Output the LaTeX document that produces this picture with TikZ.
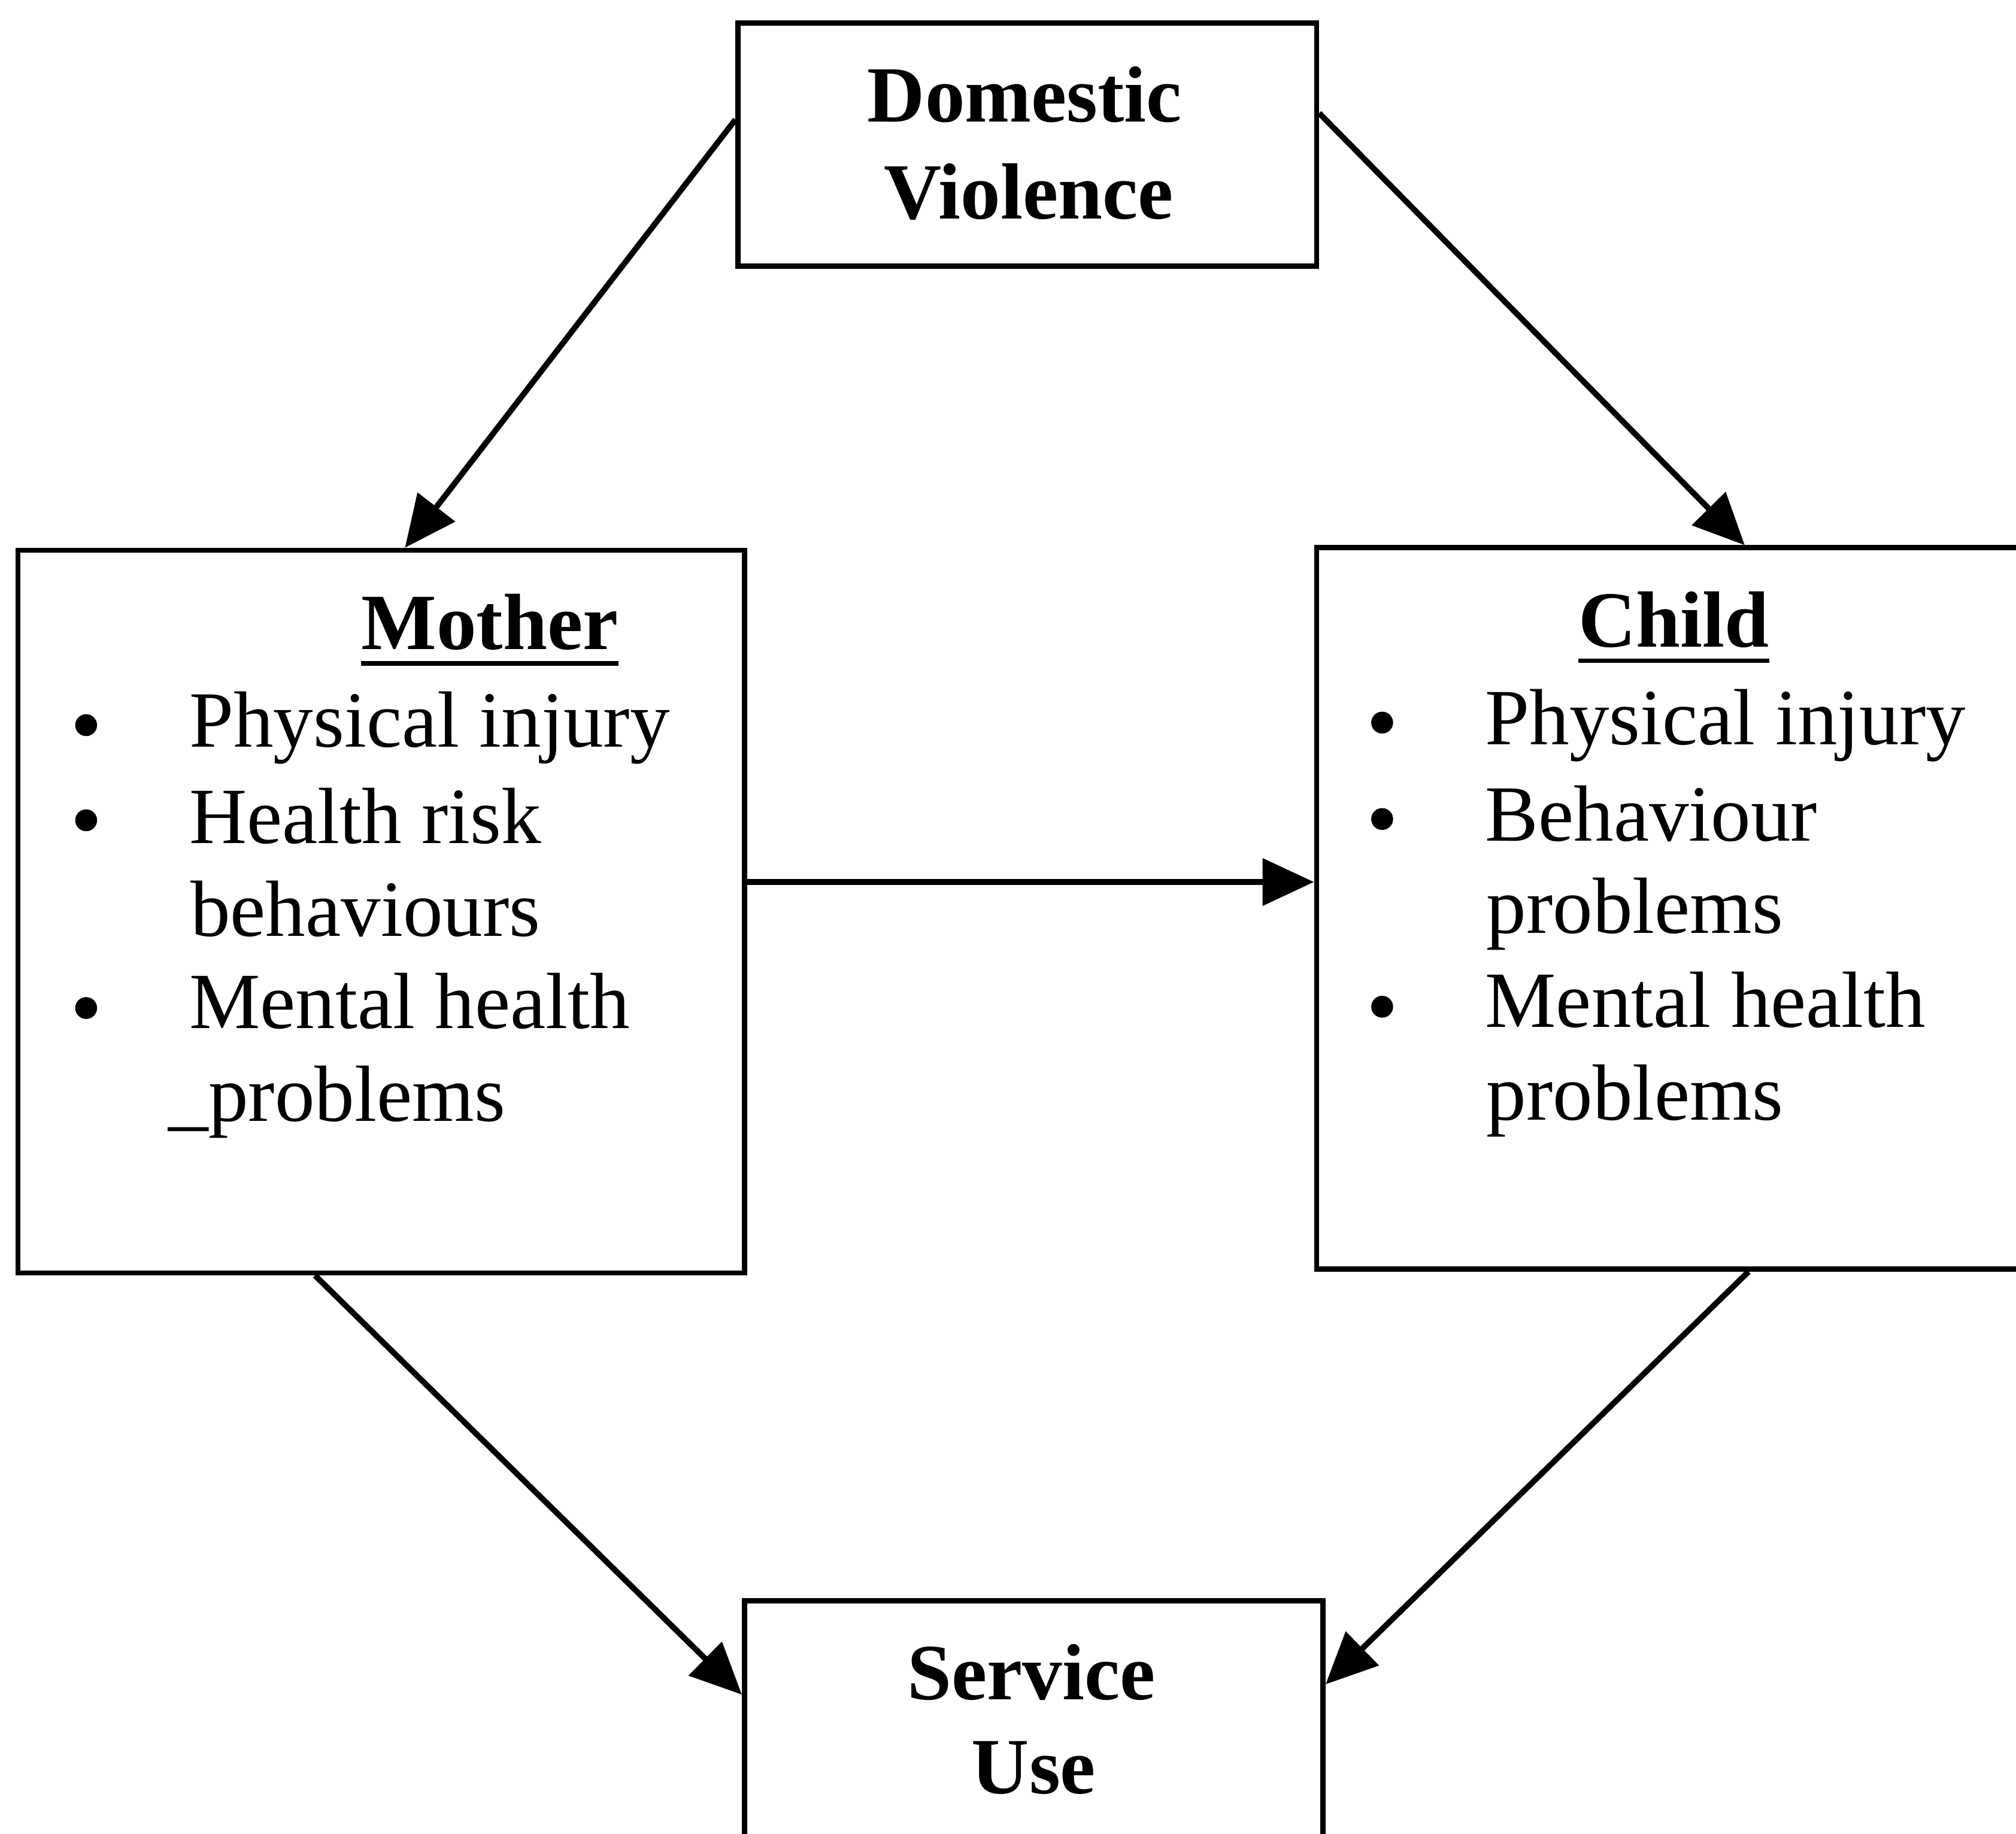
\documentclass[tikz,border=0pt]{standalone}
\usepackage{fontspec}
\setmainfont{Liberation Serif}
\usetikzlibrary{arrows.meta,calc}
\begin{document}
\begin{tikzpicture}[x=1pt,y=-1pt,
  box/.style={draw,line width=4pt,rectangle,inner sep=0pt,anchor=north west},
  conn/.style={line width=4.5pt,-{Triangle[length=40pt,width=36pt]}},
  txt/.style={font=\fontsize{62}{73}\selectfont,inner sep=0pt},
  head/.style={txt,font=\fontsize{62}{73}\selectfont\bfseries,anchor=base},
  item/.style={txt,anchor=base west},
  bul/.style={circle,fill,inner sep=0pt,minimum size=17pt},
  uline/.style={line width=3.5pt}]
\useasboundingbox (0,0) rectangle (1568,1426);
\clip (0,0) rectangle (1568,1426);
\fill[white] (0,0) rectangle (1568,1426);
% boxes
\node[box,minimum width=450pt,minimum height=189pt] (dv) at (572,16) {};
\node[box,minimum width=565pt,minimum height=562pt] (mother) at (12,426) {};
\node[box,minimum width=560pt,minimum height=561pt] (child) at (1022,424) {};
\node[box,minimum width=450pt,minimum height=200pt] (svc) at (577,1243) {};
% texts
\node[head] (dv1) at (797,95) {Domestic};
\node[head] (dv2) at (800,170) {Violence};
\node[head] (mh) at (381,505) {Mother};
\draw[uline] ($(mh.base west)+(0,11)$) -- ($(mh.base east)+(0,11)$);
\node[bul] (mb1) at (67,564) {};
\node[item] (m1) at (147,581) {Physical injury};
\node[bul] (mb2) at (67,638) {};
\node[item] (m2) at (147,656) {Health risk};
\node[item] (m3) at (148,728) {behaviours};
\node[bul] (mb3) at (67,784) {};
\node[item] (m4) at (147,800) {Mental health};
\node[item] (m5) at (131,872) {\_problems};
\node[head] (ch) at (1302,503) {Child};
\draw[uline] ($(ch.base west)+(0,11)$) -- ($(ch.base east)+(0,11)$);
\node[bul] (cb1) at (1075,562) {};
\node[item] (c1) at (1155,579) {Physical injury};
\node[bul] (cb2) at (1075,637) {};
\node[item] (c2) at (1155,654) {Behaviour};
\node[item] (c3) at (1156,726) {problems};
\node[bul] (cb3) at (1075,783) {};
\node[item] (c4) at (1155,799) {Mental health};
\node[item] (c5) at (1156,871) {problems};
\node[head] (s1) at (802,1322) {Service};
\node[head] (s2) at (804,1395) {Use};
% connectors
\draw[conn] ($(dv.north west)+(0,77)$) -- ($(mother.north west)+(303,0)$);
\draw[conn] ($(dv.north east)+(0,72)$) -- ($(child.north west)+(335,0)$);
\draw[conn] ($(mother.north east)+(0,260)$) -- ($(child.north west)+(0,262)$);
\draw[conn] ($(mother.south west)+(233,0)$) -- ($(svc.north west)+(0,75)$);
\draw[conn] ($(child.south west)+(338,0)$) -- ($(svc.north east)+(0,67)$);
\end{tikzpicture}
\end{document}
